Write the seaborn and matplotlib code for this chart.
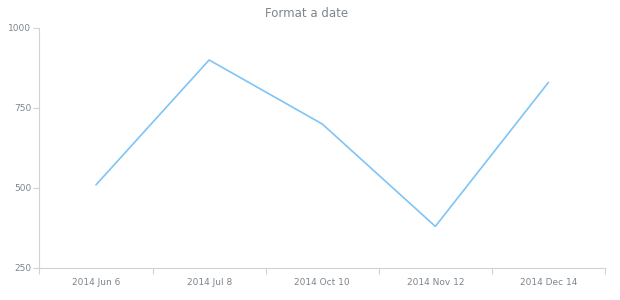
import matplotlib
matplotlib.use("Agg")
import matplotlib.pyplot as plt
import seaborn as sns
import pandas as pd
import numpy as np

categories = ["2014 Jun 6", "2014 Jul 8", "2014 Oct 10", "2014 Nov 12", "2014 Dec 14"]
values = [510, 900, 700, 380, 830]
y_ticks = [250, 500, 750, 1000]
title = "Format a date"

sns.set_theme(style="white")
plt.rcParams['font.family'] = ['DejaVu Sans']

df = pd.DataFrame({"date": categories, "value": values})

fig = plt.figure(figsize=(6.2, 3.0), dpi=100)
ax = fig.add_axes([0.0637, 0.1067, 0.9121, 0.80])
sns.lineplot(data=df, x="date", y="value", ax=ax, color="#7ec4f6", linewidth=1.2, sort=False)

axis_col = "#cfd3d6"
text_col = "#7c868e"
ax.set_xlim(-0.5, len(categories) - 0.5)
ax.set_ylim(y_ticks[0], y_ticks[-1])
ax.set_yticks(y_ticks)
ax.set_yticklabels([str(t) for t in y_ticks], fontsize=6.5, color=text_col)
ax.set_xticks(range(len(categories)))
ax.set_xticklabels(categories, fontsize=6.5, color=text_col)
ax.set_xticks(np.arange(-0.5, len(categories), 1.0), minor=True)
ax.tick_params(axis="x", which="major", length=0, pad=7)
ax.tick_params(axis="x", which="minor", length=4, color=axis_col, width=0.8, direction="out")
ax.tick_params(axis="y", which="major", length=4, color=axis_col, width=0.8, direction="out", pad=2)
ax.xaxis.set_ticks_position("bottom")
ax.yaxis.set_ticks_position("left")

for side in ["top", "right"]:
    ax.spines[side].set_visible(False)
for side in ["left", "bottom"]:
    ax.spines[side].set_color(axis_col)
    ax.spines[side].set_linewidth(0.8)

ax.set_xlabel("")
ax.set_ylabel("")
fig.text(0.494, 0.955, title, ha="center", va="center", fontsize=8.5, color=text_col)

fig.savefig("out.png", dpi=100, facecolor="white")
